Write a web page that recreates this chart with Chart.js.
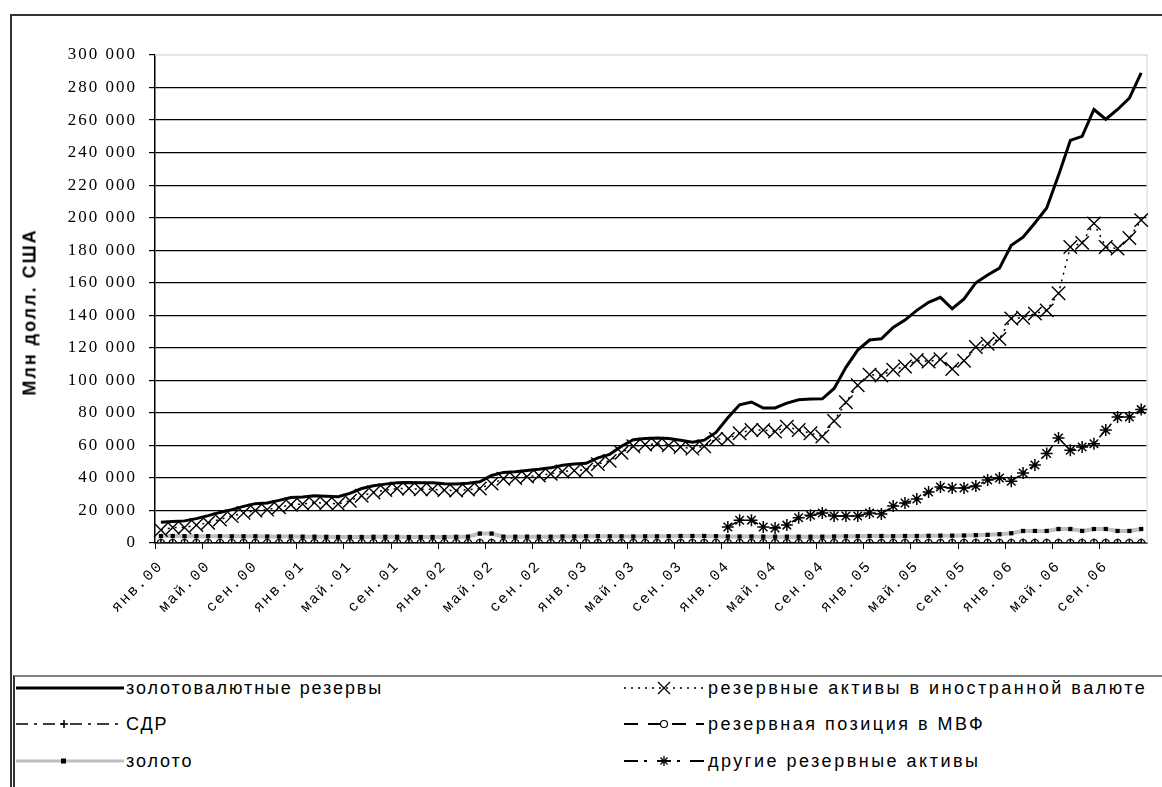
<!DOCTYPE html>
<html lang="ru">
<head>
<meta charset="utf-8">
<title>Международные резервы</title>
<script src="https://cdn.jsdelivr.net/npm/chart.js@4.4.1/dist/chart.umd.min.js"></script>
<style>
  html, body { margin: 0; padding: 0; background: #fff; }
  body { width: 1162px; height: 787px; position: relative; overflow: hidden; }
  #frame {
    position: absolute; left: 10px; top: 14px; right: 0; bottom: 0;
    border-top: 2px solid #333; border-left: 2px solid #333;
  }
  #wrap { position: absolute; left: 0; top: 0; width: 1162px; height: 676px; }
  #yTitle {
    position: absolute; left: 30px; top: 312px; width: 0; height: 0;
  }
  #yTitle span {
    position: absolute; left: 0; top: 0; white-space: nowrap;
    transform: translate(-50%, -50%) rotate(-90deg);
    font-family: "Liberation Sans", Arial, sans-serif; font-weight: bold;
    font-size: 18px; letter-spacing: 2px; color: #000;
  }
  #legendBox {
    position: absolute; left: 13px; top: 675px; right: 0; bottom: 0;
    border-top: 2px solid #808080; border-left: 2px solid #333; background: #fff;
  }
  .item {
    position: absolute; height: 24px; display: flex; align-items: center;
    font-family: "Liberation Sans", Arial, sans-serif; font-size: 18px;
    letter-spacing: 1.9px; color: #000; white-space: nowrap;
  }
  .item.wide { letter-spacing: 2.5px; }
  .item svg { display: block; margin-right: 2px; }
</style>
</head>
<body>
<div id="frame"></div>
<div id="wrap"><canvas id="reservesChart"></canvas></div>
<div id="yTitle"><span>Млн долл. США</span></div>

<div id="legendBox">
  <div class="item" style="left:1px; top:-1px;">
    <svg width="108" height="14"><line x1="0" y1="7" x2="108" y2="7" stroke="#000" stroke-width="3"/></svg>
    золотовалютные резервы
  </div>
  <div class="item wide" style="left:607px; top:-1px;">
    <svg width="84" height="14">
      <line x1="2" y1="7" x2="82" y2="7" stroke="#000" stroke-width="1.5" stroke-dasharray="2,5"/>
      <line x1="36" y1="1" x2="48" y2="13" stroke="#000" stroke-width="1.3"/>
      <line x1="48" y1="1" x2="36" y2="13" stroke="#000" stroke-width="1.3"/>
    </svg>
    резервные активы в иностранной валюте
  </div>
  <div class="item" style="left:1px; top:35px;">
    <svg width="108" height="14">
      <line x1="0" y1="7" x2="108" y2="7" stroke="#000" stroke-width="1.5" stroke-dasharray="12,6,3,6"/>
      <line x1="48" y1="3" x2="48" y2="11" stroke="#000" stroke-width="1.5"/>
      <line x1="44" y1="7" x2="52" y2="7" stroke="#000" stroke-width="1.5"/>
    </svg>
    СДР
  </div>
  <div class="item wide" style="left:607px; top:35px;">
    <svg width="84" height="14">
      <line x1="2" y1="7" x2="82" y2="7" stroke="#000" stroke-width="2" stroke-dasharray="14,10"/>
      <circle cx="42" cy="7" r="3.5" fill="#fff" stroke="#000" stroke-width="1.2"/>
    </svg>
    резервная позиция в МВФ
  </div>
  <div class="item" style="left:1px; top:72px;">
    <svg width="108" height="14">
      <line x1="0" y1="7" x2="108" y2="7" stroke="#bfbfbf" stroke-width="3"/>
      <rect x="45" y="4.5" width="5" height="5" fill="#000"/>
    </svg>
    золото
  </div>
  <div class="item wide" style="left:607px; top:72px;">
    <svg width="84" height="14">
      <line x1="2" y1="7" x2="82" y2="7" stroke="#000" stroke-width="2" stroke-dasharray="14,6,3,10"/>
      <line x1="42" y1="2" x2="42" y2="12" stroke="#000" stroke-width="1.3"/>
      <line x1="37" y1="7" x2="47" y2="7" stroke="#000" stroke-width="1.3"/>
      <line x1="38.5" y1="3.5" x2="45.5" y2="10.5" stroke="#000" stroke-width="1.3"/>
      <line x1="45.5" y1="3.5" x2="38.5" y2="10.5" stroke="#000" stroke-width="1.3"/>
    </svg>
    другие резервные активы
  </div>
</div>

<script>
// Месяцы и годы для подписей оси X (янв.2000 - дек.2006)
const months = ['янв', 'фев', 'мар', 'апр', 'май', 'июн', 'июл', 'авг', 'сен', 'окт', 'ноя', 'дек'];
const years = ['00', '01', '02', '03', '04', '05', '06'];
const labels = [];
years.forEach(y => months.forEach(m => labels.push(m + '.' + y)));

// Значения, млн долл. США (по строке на год)
const totalReserves = [
  12800, 13200, 13600, 15000, 16800, 18800, 20500, 22500, 24200, 24600, 26200, 28000,
  28300, 29000, 28800, 28400, 30500, 33500, 35200, 36200, 37000, 37200, 37000, 37000,
  36400, 36200, 36800, 37600, 41500, 43400, 43800, 44600, 45300, 46200, 47800, 48500,
  49000, 52300, 54500, 59500, 63500, 64200, 64500, 64200, 63200, 62000, 63200, 68000,
  77000, 85000, 86700, 83000, 83000, 86000, 88000, 88500, 88600, 95000, 108000, 118600,
  124800, 125500, 132500, 137000, 143000, 148000, 151000, 144000, 150000, 160000, 164800, 169000,
  183000, 188000, 196700, 206000, 226000, 247500, 250000, 266500, 260500, 266500, 273500, 289000
];
const foreignCurrency = [
  8000, 9500, 9500, 11000, 12500, 14500, 16500, 18500, 20000, 20500, 22000, 23500,
  24000, 24800, 24500, 24000, 26000, 29000, 31000, 32500, 33500, 33500, 33000, 33000,
  32500, 32200, 32800, 33500, 36500, 39500, 40000, 40800, 41500, 42500, 44000, 44500,
  45000, 48500, 50500, 55500, 59500, 60500, 61000, 60000, 59000, 58000, 59500, 64000,
  64000, 67500, 69500, 69500, 68500, 71500, 69500, 67500, 65500, 75000, 86500, 97000,
  103500, 103000, 106500, 108500, 112500, 111500, 113000, 107000, 112000, 120500, 122500, 125500,
  138000, 138500, 141000, 143000, 153500, 182000, 184500, 196500, 182000, 181000, 187500, 198500
];
const sdr = [
  0, 0, 0, 0, 0, 0, 0, 0, 0, 0, 0, 0,
  0, 0, 0, 0, 0, 0, 0, 0, 0, 0, 0, 0,
  0, 0, 0, 0, 0, 0, 0, 0, 0, 0, 0, 0,
  0, 0, 0, 0, 0, 0, 0, 0, 0, 0, 0, 0,
  0, 0, 0, 0, 0, 0, 0, 0, 0, 0, 0, 0,
  0, 0, 0, 0, 0, 0, 0, 0, 0, 0, 0, 0,
  0, 0, 0, 0, 0, 0, 0, 0, 0, 0, 0, 0
];
const imfPosition = [
  0, 0, 0, 0, 0, 0, 0, 0, 0, 0, 0, 0,
  0, 0, 0, 0, 0, 0, 0, 0, 0, 0, 0, 0,
  0, 0, 0, 0, 0, 0, 0, 0, 0, 0, 0, 0,
  0, 0, 0, 0, 0, 0, 0, 0, 0, 0, 0, 0,
  0, 0, 0, 0, 0, 0, 0, 0, 0, 0, 0, 0,
  0, 0, 0, 0, 0, 0, 0, 0, 0, 0, 0, 0,
  0, 0, 0, 0, 0, 0, 0, 0, 0, 0, 0, 0
];
const gold = [
  4300, 4300, 4200, 4200, 4200, 4200, 4100, 4100, 4100, 4000, 4000, 4000,
  3900, 3900, 3800, 3700, 3700, 3700, 3800, 3800, 3800, 3700, 3700, 3700,
  3700, 3800, 3900, 5800, 5800, 3900, 3900, 3900, 3900, 3900, 4000, 4000,
  4100, 4200, 4100, 4100, 4000, 4100, 4100, 4200, 4300, 4300, 4300, 4200,
  4000, 4000, 4000, 3900, 3900, 3900, 3900, 3900, 3900, 4000, 4100, 4200,
  4300, 4300, 4200, 4300, 4300, 4400, 4500, 4500, 4600, 4800, 5000, 5400,
  6000, 7400, 7400, 7400, 8600, 8600, 7400, 8600, 8600, 7400, 7400, 8600
];
const otherAssets = [
  null, null, null, null, null, null, null, null, null, null, null, null,
  null, null, null, null, null, null, null, null, null, null, null, null,
  null, null, null, null, null, null, null, null, null, null, null, null,
  null, null, null, null, null, null, null, null, null, null, null, null,
  9800, 14000, 14000, 9800, 9200, 11000, 15500, 17000, 18400, 16600, 16600, 16600,
  18400, 17800, 22700, 24600, 27000, 31400, 34400, 33800, 33800, 35000, 38700, 40000,
  38000, 43000, 48000, 55000, 64500, 57000, 59000, 61000, 69500, 77400, 77400, 82000
];

const yTicks = { min: 0, max: 300000, step: 20000 };

// Формат "300 000"
function fmt(v) {
  return String(v).replace(/\B(?=(\d{3})+(?!\d))/g, ' ');
}

// Разрядка букв на канве
const spacing = {
  id: 'spacing',
  beforeLayout(chart) { chart.ctx.letterSpacing = '2px'; },
  beforeDraw(chart) { chart.ctx.letterSpacing = '2px'; }
};

// Светлая рамка области построения сверху и справа
const plotFrame = {
  id: 'plotFrame',
  beforeDatasetsDraw(chart) {
    const { ctx, chartArea: a } = chart;
    ctx.save();
    ctx.strokeStyle = '#e2e2e2';
    ctx.lineWidth = 1.5;
    ctx.beginPath();
    ctx.moveTo(a.left, a.top);
    ctx.lineTo(a.right, a.top);
    ctx.lineTo(a.right, a.bottom);
    ctx.stroke();
    ctx.restore();
  }
};

const data = {
  labels: labels,
  datasets: [
    {
      label: 'золотовалютные резервы',
      data: totalReserves,
      borderColor: '#000',
      borderWidth: 3,
      pointRadius: 0
    },
    {
      label: 'резервные активы в иностранной валюте',
      data: foreignCurrency,
      borderColor: '#000',
      borderWidth: 1.5,
      borderDash: [2, 5],
      pointStyle: 'crossRot',
      pointRadius: 9.5,
      pointBorderWidth: 1.4,
      pointBorderColor: '#000'
    },
    {
      label: 'СДР',
      data: sdr,
      borderColor: '#000',
      borderWidth: 1.5,
      borderDash: [12, 6, 3, 6],
      pointStyle: 'cross',
      pointRadius: 4.5,
      pointBorderWidth: 1.5,
      pointBorderColor: '#000'
    },
    {
      label: 'резервная позиция в МВФ',
      data: imfPosition,
      borderColor: '#000',
      borderWidth: 2,
      borderDash: [14, 10],
      pointStyle: 'circle',
      pointRadius: 3.5,
      pointBorderWidth: 1.2,
      pointBorderColor: '#000',
      pointBackgroundColor: '#fff'
    },
    {
      label: 'золото',
      data: gold,
      borderColor: '#bfbfbf',
      borderWidth: 4,
      pointStyle: 'rect',
      pointRadius: 3,
      pointBorderWidth: 0,
      pointBackgroundColor: '#000'
    },
    {
      label: 'другие резервные активы',
      data: otherAssets,
      borderColor: '#000',
      borderWidth: 1.5,
      borderDash: [10, 5, 3, 5],
      pointStyle: 'star',
      pointRadius: 6,
      pointBorderWidth: 1.5,
      pointBorderColor: '#000'
    }
  ]
};

const config = {
  type: 'line',
  data: data,
  options: {
    responsive: true,
    maintainAspectRatio: false,
    animation: false,
    layout: { padding: { top: 55, right: 14, left: 0, bottom: 0 } },
    elements: { line: { tension: 0, fill: false } },
    plugins: {
      legend: { display: false },
      tooltip: { enabled: false }
    },
    scales: {
      x: {
        offset: true,
        grid: {
          offset: true,
          drawOnChartArea: false,
          tickLength: 6,
          color: c => (c.index % 4 === 0 ? '#000' : 'rgba(0,0,0,0)')
        },
        border: { color: '#000', width: 1.5 },
        ticks: {
          autoSkip: false,
          minRotation: 45,
          maxRotation: 45,
          padding: 8,
          color: '#000',
          font: { family: '"Liberation Mono", "Courier New", monospace', size: 15 },
          callback: function (v, i) {
            return i % 4 === 0 ? this.getLabelForValue(v) : '';
          }
        },
        afterFit(scale) { scale.height = 133; }
      },
      y: {
        min: yTicks.min,
        max: yTicks.max,
        grid: {
          color: c => (c.tick && c.tick.value === yTicks.max ? '#e2e2e2' : '#000'),
          tickColor: '#000',
          tickLength: 6,
          lineWidth: 1.2
        },
        border: { color: '#000', width: 1.5 },
        ticks: {
          stepSize: yTicks.step,
          padding: 12,
          color: '#000',
          font: { family: '"Liberation Serif", "Times New Roman", serif', size: 17 },
          callback: v => fmt(v)
        },
        afterFit(scale) { scale.width = 155; }
      }
    }
  },
  plugins: [spacing, plotFrame]
};

const ctx = document.getElementById('reservesChart').getContext('2d');
const reservesChart = new Chart(ctx, config);
</script>
</body>
</html>
